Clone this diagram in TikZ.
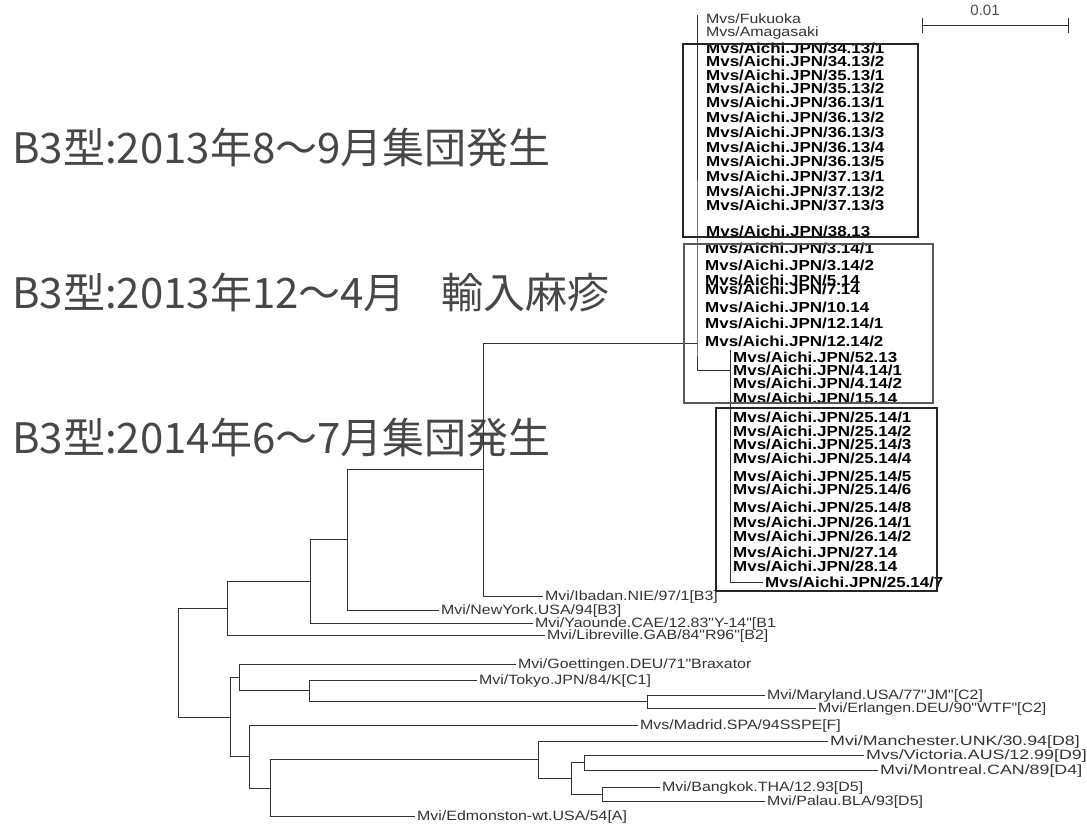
\documentclass[tikz,border=0pt]{standalone}
\usepackage{fontspec}
\setmainfont{Liberation Sans}
\newfontfamily\leaffont[FakeStretch=1.18]{Liberation Sans}
\newfontfamily\wideleaffont[FakeStretch=1.32]{Liberation Sans}
\newfontfamily\strainfont[FakeStretch=1.17]{Liberation Sans}
\newfontfamily\jpfont{Noto Sans CJK JP}
\tikzset{
  branch/.style={draw=black!80,line width=0.8pt},
  leaf/.style={anchor=west,inner xsep=2pt,inner ysep=0pt,text height=9.7pt,text depth=0pt,text=black!80,font=\leaffont\fontsize{13.5}{13.5}\selectfont},
  wideleaf/.style={leaf,font=\wideleaffont\fontsize{13.5}{13.5}\selectfont},
  strain/.style={leaf,text height=10.4pt,text=black,font=\strainfont\bfseries\fontsize{14.5}{14.5}\selectfont},
  clade/.style={draw=black!85,line width=1.6pt},
  jplabel/.style={anchor=base west,inner sep=0pt,text=black!72,font=\jpfont\fontsize{42}{42}\selectfont}
}
\begin{document}
\begin{tikzpicture}[x=1pt,y=-1pt]
\useasboundingbox (0,0) rectangle (1087,829);
% outbreak labels
\node[jplabel] (out13) at (12,164) {B3型:2013年8～9月集団発生};
\node[jplabel] (imp13) at (12,308) {B3型:2013年12～4月\hspace{36pt}輸入麻疹};
\node[jplabel] (out14) at (12,453) {B3型:2014年6～7月集団発生};
% B3 strains, zero length
\node[leaf] (fukuoka) at (704,19) {Mvs/Fukuoka};\node[leaf] (amagasaki) at (704,32) {Mvs/Amagasaki};
\begin{scope}
  \node[strain] (t1) at (704,48) {Mvs/Aichi.JPN/34.13/1};\node[strain] (t2) at (704,61) {Mvs/Aichi.JPN/34.13/2};
  \node[strain] (t3) at (704,75) {Mvs/Aichi.JPN/35.13/1};\node[strain] (t4) at (704,88) {Mvs/Aichi.JPN/35.13/2};
  \node[strain] (t5) at (704,102) {Mvs/Aichi.JPN/36.13/1};\node[strain] (t6) at (704,117) {Mvs/Aichi.JPN/36.13/2};
  \node[strain] (t7) at (704,132) {Mvs/Aichi.JPN/36.13/3};\node[strain] (t8) at (704,147) {Mvs/Aichi.JPN/36.13/4};
  \node[strain] (t9) at (704,161) {Mvs/Aichi.JPN/36.13/5};\node[strain] (t10) at (704,176) {Mvs/Aichi.JPN/37.13/1};
  \node[strain] (t11) at (704,191) {Mvs/Aichi.JPN/37.13/2};\node[strain] (t12) at (704,205) {Mvs/Aichi.JPN/37.13/3};
  \node[strain] (t13) at (704,231) {Mvs/Aichi.JPN/38.13};
\end{scope}
\begin{scope}
  \node[strain] (m1) at (703,248) {Mvs/Aichi.JPN/3.14/1};\node[strain] (m2) at (703,265) {Mvs/Aichi.JPN/3.14/2};
  \node[strain] (m3) at (703,280) {Mvs/Aichi.JPN/5.14};\node[strain] (m4) at (703,289) {Mvs/Aichi.JPN/7.14};
  \node[strain] (m5) at (703,307) {Mvs/Aichi.JPN/10.14};\node[strain] (m6) at (703,323) {Mvs/Aichi.JPN/12.14/1};
  \node[strain] (m7) at (703,341) {Mvs/Aichi.JPN/12.14/2};
  \node[strain] (m8) at (731,357) {Mvs/Aichi.JPN/52.13};\node[strain] (m9) at (731,370) {Mvs/Aichi.JPN/4.14/1};
  \node[strain] (m10) at (731,383) {Mvs/Aichi.JPN/4.14/2};\node[strain] (m11) at (731,398) {Mvs/Aichi.JPN/15.14};
\end{scope}
\begin{scope}
  \node[strain] (c1) at (731,417) {Mvs/Aichi.JPN/25.14/1};\node[strain] (c2) at (731,431) {Mvs/Aichi.JPN/25.14/2};
  \node[strain] (c3) at (731,444) {Mvs/Aichi.JPN/25.14/3};\node[strain] (c4) at (731,458) {Mvs/Aichi.JPN/25.14/4};
  \node[strain] (c5) at (731,476) {Mvs/Aichi.JPN/25.14/5};\node[strain] (c6) at (731,489) {Mvs/Aichi.JPN/25.14/6};
  \node[strain] (c7) at (731,507) {Mvs/Aichi.JPN/25.14/8};\node[strain] (c8) at (731,522) {Mvs/Aichi.JPN/26.14/1};
  \node[strain] (c9) at (731,536) {Mvs/Aichi.JPN/26.14/2};\node[strain] (c10) at (731,552) {Mvs/Aichi.JPN/27.14};
  \node[strain] (c11) at (731,566) {Mvs/Aichi.JPN/28.14};\node[strain] (c12) at (763,582) {Mvs/Aichi.JPN/25.14/7};
\end{scope}
% reference strains
\node[leaf] (ibadan) at (543,596) {Mvi/Ibadan.NIE/97/1[B3]};
\node[leaf] (newyork) at (439,610) {Mvi/NewYork.USA/94[B3]};
\node[leaf] (yaounde) at (533,623) {Mvi/Yaounde.CAE/12.83"Y-14"[B1};
\node[leaf] (libreville) at (545,635) {Mvi/Libreville.GAB/84"R96"[B2]};
\node[leaf] (goettingen) at (516,664) {Mvi/Goettingen.DEU/71"Braxator};
\node[leaf] (tokyo) at (477,680) {Mvi/Tokyo.JPN/84/K[C1]};
\node[leaf] (maryland) at (765,695) {Mvi/Maryland.USA/77"JM"[C2]};
\node[leaf] (erlangen) at (816,708) {Mvi/Erlangen.DEU/90"WTF"[C2]};
\node[leaf] (madrid) at (638,725) {Mvs/Madrid.SPA/94SSPE[F]};
\node[wideleaf] (manchester) at (828,741) {Mvi/Manchester.UNK/30.94[D8]};
\node[wideleaf] (victoria) at (864,755) {Mvs/Victoria.AUS/12.99[D9]};
\node[wideleaf] (montreal) at (878,770) {Mvi/Montreal.CAN/89[D4]};
\node[leaf] (bangkok) at (660,787) {Mvi/Bangkok.THA/12.93[D5]};
\node[leaf] (palau) at (765,801) {Mvi/Palau.BLA/93[D5]};
\node[leaf] (edmonston) at (415,816) {Mvi/Edmonston-wt.USA/54[A]};
% internal nodes
\coordinate (atop) at (697,15);\coordinate (a) at (697,343);\coordinate (b) at (730,370);
\coordinate (btop) at (730,350);\coordinate (bbot) at (730,582);
\coordinate (n1) at (483,469.5);\coordinate (n2) at (347,539.75);\coordinate (n3) at (310,581);
\coordinate (n4) at (227,608);\coordinate (root) at (178,662.5);\coordinate (n5) at (230,717);
\coordinate (n6) at (239,677.4);\coordinate (n7) at (309,690.75);\coordinate (n8) at (647,701.5);
\coordinate (n9) at (249,756.75);\coordinate (n10) at (270,788);\coordinate (n11) at (538,759.5);
\coordinate (n12) at (571,778.25);\coordinate (n13) at (584,762.5);\coordinate (n14) at (602,794);
% branches
\draw[branch] (atop) -- (a) |- (b);\draw[branch] (btop) -- (bbot) -- (c12.west);
\draw[branch] (n1) |- (a);\draw[branch] (n1) |- (ibadan.west);
\draw[branch] (n2) |- (n1);\draw[branch] (n2) |- (newyork.west);
\draw[branch] (n3) |- (n2);\draw[branch] (n3) |- (yaounde.west);
\draw[branch] (n4) |- (n3);\draw[branch] (n4) |- (libreville.west);
\draw[branch] (root) |- (n4);\draw[branch] (root) |- (n5);
\draw[branch] (n5) |- (n6);\draw[branch] (n5) |- (n9);
\draw[branch] (n6) |- (goettingen.west);\draw[branch] (n6) |- (n7);
\draw[branch] (n7) |- (tokyo.west);\draw[branch] (n7) |- (n8);
\draw[branch] (n8) |- (maryland.west);\draw[branch] (n8) |- (erlangen.west);
\draw[branch] (n9) |- (madrid.west);\draw[branch] (n9) |- (n10);
\draw[branch] (n10) |- (n11);\draw[branch] (n10) |- (edmonston.west);
\draw[branch] (n11) |- (manchester.west);\draw[branch] (n11) |- (n12);
\draw[branch] (n12) |- (n13);\draw[branch] (n12) |- (n14);
\draw[branch] (n13) |- (victoria.west);\draw[branch] (n13) |- (montreal.west);
\draw[branch] (n14) |- (bangkok.west);\draw[branch] (n14) |- (palau.west);
% outbreak frames
\draw[clade] (683,44) rectangle (918,237);
\draw[clade,draw=black!65,line width=1.8pt] (684,244) rectangle (933,403);
\draw[clade,line width=2.6pt] (716,408) rectangle (937,591);
% scale bar
\coordinate (sbl) at (922,25);\coordinate (sbr) at (1068,25);
\draw[branch] (sbl) -- (sbr);\draw[branch] (922,18) -- (922,33);\draw[branch] (1068,18) -- (1068,33);
\node[text=black!70,font=\fontsize{15}{15}\selectfont] (scalelbl) at (985,10) {0.01};
\end{tikzpicture}
\end{document}
